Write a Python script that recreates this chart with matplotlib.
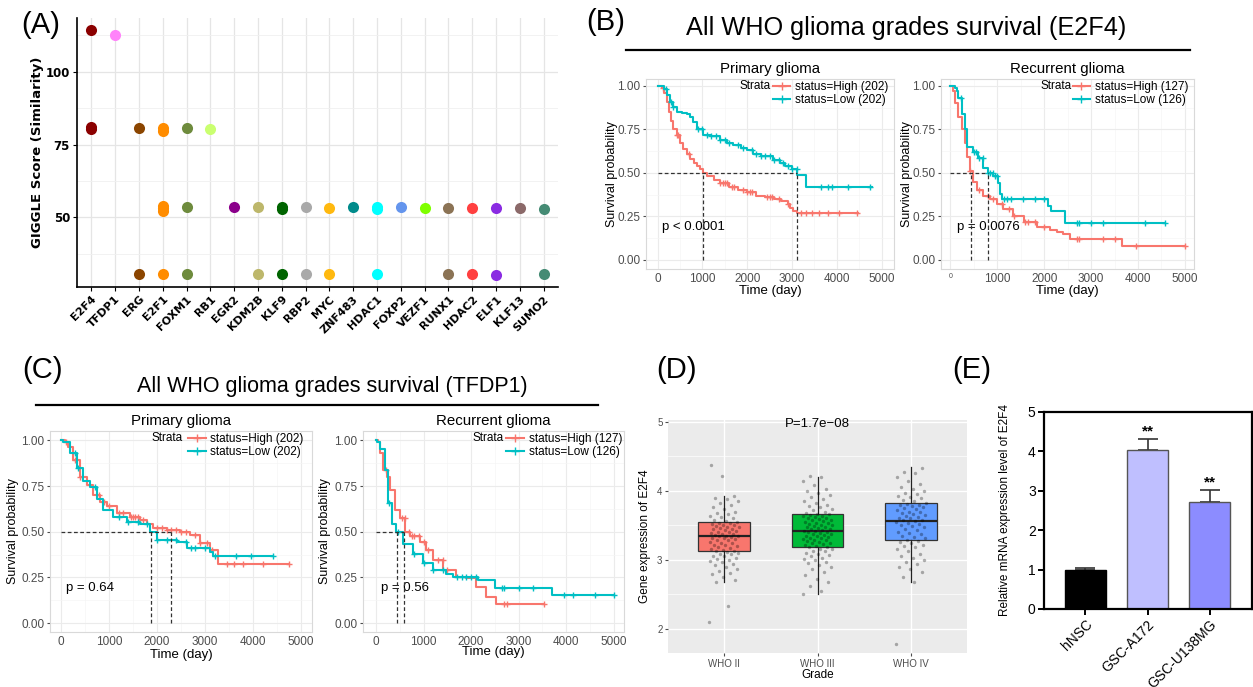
import numpy as np
import matplotlib
matplotlib.use("Agg")
import matplotlib.pyplot as plt
from matplotlib.lines import Line2D
from matplotlib.ticker import MultipleLocator

plt.rcParams["font.family"] = ["Liberation Sans", "DejaVu Sans"]

# ---------------- data ----------------
# (A) GIGGLE scores
genes = ["E2F4", "TFDP1", "ERG", "E2F1", "FOXM1", "RB1", "EGR2", "KDM2B", "KLF9", "RBP2",
         "MYC", "ZNF483", "HDAC1", "FOXP2", "VEZF1", "RUNX1", "HDAC2", "ELF1", "KLF13", "SUMO2"]
gene_colors = ["#8B0000", "#FF83FA", "#8B4500", "#FF8C00", "#6E8B3D", "#CAFF70", "#8B008B",
               "#BDB76B", "#006400", "#A9A9A9", "#FFB90F", "#008B8B", "#00FFFF", "#6495ED",
               "#7FFF00", "#8B7355", "#FF4040", "#8A2BE2", "#8B6969", "#458B74"]
giggle_scores = [
    [114.3, 80.4, 81.1],
    [112.6],
    [80.7, 30.4],
    [79.8, 80.8, 52.3, 53.1, 53.9, 30.4],
    [80.7, 53.4, 30.4],
    [80.4],
    [53.6],
    [53.6, 30.4],
    [52.8, 53.6, 30.4],
    [53.6, 30.4],
    [53.2, 30.4],
    [53.6],
    [52.7, 53.4, 30.4],
    [53.6],
    [53.2],
    [53.2, 30.4],
    [53.2, 30.4],
    [53.2, 30.2],
    [53.0],
    [52.8, 30.6],
]

# (B) E2F4 survival, primary glioma
b1_high_t = [0, 100, 150, 200, 250, 300, 350, 420, 500, 570, 650, 720, 800, 870, 950, 1020,
             1100, 1250, 1400, 1600, 1800, 2000, 2200, 2400, 2600, 2750, 2900, 2960, 3030, 3100, 4480]
b1_high_s = [1.0, 0.99, 0.96, 0.91, 0.85, 0.80, 0.75, 0.72, 0.67, 0.64, 0.61, 0.58, 0.56, 0.54,
             0.52, 0.50, 0.48, 0.46, 0.44, 0.42, 0.40, 0.39, 0.37, 0.36, 0.35, 0.34, 0.32, 0.30,
             0.28, 0.27, 0.27]
b1_high_cens = [120, 420, 450, 700, 1400, 1450, 1500, 1550, 1650, 1700, 1900, 2000, 2050, 2100,
                2450, 2500, 2550, 2700, 2900, 3200, 3300, 3450, 3600, 3800, 4050, 4450]
b1_low_t = [0, 150, 200, 275, 350, 424, 550, 647, 720, 796, 870, 1019, 1200, 1391, 1550, 1689,
            1850, 1987, 2135, 2300, 2433, 2582, 2731, 2850, 2991, 3118, 3300, 4780]
b1_low_s = [1.0, 0.98, 0.95, 0.91, 0.88, 0.85, 0.845, 0.84, 0.82, 0.79, 0.75, 0.72, 0.71, 0.69,
            0.675, 0.66, 0.645, 0.63, 0.61, 0.60, 0.595, 0.575, 0.555, 0.54, 0.52, 0.49, 0.42, 0.42]
b1_low_cens = [180, 300, 350, 900, 1000, 1100, 1200, 1300, 1400, 1500, 1600, 1800, 1900, 2100,
               2200, 2300, 2400, 2500, 2600, 2700, 2800, 2900, 3000, 3100, 3650, 3800, 3900, 4250, 4750]

# (B) E2F4 survival, recurrent glioma
b2_high_t = [0, 60, 100, 170, 240, 310, 360, 420, 490, 560, 700, 845, 990, 1130, 1340, 1560,
             1840, 2120, 2270, 2410, 2550, 3650, 5000]
b2_high_s = [1.0, 0.97, 0.90, 0.82, 0.75, 0.67, 0.59, 0.51, 0.45, 0.40, 0.37, 0.35, 0.32, 0.29,
             0.25, 0.22, 0.19, 0.17, 0.16, 0.15, 0.12, 0.08, 0.08]
b2_high_cens = [420, 600, 800, 900, 1100, 1250, 1350, 1600, 1650, 1800, 2000, 2700, 2750, 3250,
                3500, 3950, 5000]
b2_low_t = [0, 100, 135, 171, 242, 313, 362, 490, 597, 703, 796, 917, 1023, 1059, 1100, 2080,
            2150, 2450, 4580]
b2_low_s = [1.0, 0.99, 0.97, 0.93, 0.84, 0.75, 0.65, 0.62, 0.585, 0.53, 0.50, 0.48, 0.44, 0.38,
            0.35, 0.31, 0.28, 0.21, 0.21]
b2_low_cens = [230, 500, 550, 600, 700, 800, 850, 900, 950, 1000, 1150, 1200, 1300, 1550, 1800,
               2000, 2700, 2750, 3000, 3250, 4150, 4580]

# (C) TFDP1 survival, primary glioma
c1_high_t = [0, 80, 150, 260, 400, 535, 675, 810, 950, 1160, 1440, 1650, 1790, 1925, 2200, 2480,
             2690, 2900, 3100, 3280, 4740]
c1_high_s = [1.0, 0.99, 0.965, 0.89, 0.80, 0.755, 0.70, 0.665, 0.64, 0.60, 0.58, 0.565, 0.54,
             0.52, 0.51, 0.50, 0.48, 0.44, 0.40, 0.325, 0.325]
c1_high_cens = [100, 300, 400, 800, 900, 1000, 1200, 1300, 1450, 1500, 1550, 1600, 1700, 2000,
                2100, 2200, 2300, 2400, 2500, 2600, 2800, 2900, 3050, 3150, 3450, 3600, 3800, 4200, 4740]
c1_low_t = [0, 50, 190, 330, 465, 605, 745, 880, 1090, 1370, 1650, 1855, 1990, 2410, 2620, 3100,
            3170, 4420]
c1_low_s = [1.0, 0.99, 0.93, 0.85, 0.78, 0.745, 0.68, 0.62, 0.58, 0.555, 0.54, 0.50, 0.455,
            0.445, 0.41, 0.39, 0.365, 0.365]
c1_low_cens = [300, 350, 700, 1200, 1400, 1600, 1800, 2000, 2200, 2400, 2600, 2700, 2800, 3000,
               3200, 3650, 3950, 4420]

# (C) TFDP1 survival, recurrent glioma
c2_high_t = [0, 50, 85, 155, 225, 295, 400, 500, 605, 710, 920, 1060, 1200, 1410, 1690, 1900,
             2100, 2310, 2520, 3530]
c2_high_s = [1.0, 0.99, 0.93, 0.84, 0.80, 0.73, 0.62, 0.575, 0.50, 0.475, 0.445, 0.40, 0.345,
             0.29, 0.255, 0.245, 0.20, 0.145, 0.105, 0.105]
c2_high_cens = [210, 550, 600, 700, 750, 800, 900, 1000, 1100, 1300, 1400, 1500, 2700, 2750, 3530]
c2_low_t = [0, 30, 85, 190, 260, 330, 430, 570, 780, 990, 1200, 1480, 1620, 2150, 2500, 3700, 5000]
c2_low_s = [1.0, 0.99, 0.95, 0.84, 0.655, 0.545, 0.50, 0.435, 0.38, 0.33, 0.29, 0.27, 0.255,
            0.235, 0.195, 0.155, 0.155]
c2_low_cens = [280, 460, 800, 1000, 1200, 1400, 1700, 1800, 1900, 2000, 2100, 2650, 2700, 3000,
               3300, 3950, 4150, 4600, 5000]

# (D) E2F4 expression by grade
grades = ["WHO II", "WHO III", "WHO IV"]
box_q1 = [3.12, 3.19, 3.28]
box_med = [3.35, 3.42, 3.56]
box_q3 = [3.55, 3.67, 3.82]
whisk_lo = [2.68, 2.50, 2.68]
whisk_hi = [3.93, 4.20, 4.35]
grade_colors = ["#F8766D", "#00BA38", "#619CFF"]
who2_expr = [2.10, 2.33, 2.68, 2.70, 2.75, 2.79, 2.81, 2.84, 2.87, 2.90, 2.92, 2.94, 2.96, 2.98,
             3.00, 3.01, 3.03, 3.05, 3.06, 3.08, 3.09, 3.10, 3.11, 3.12, 3.13, 3.14, 3.16, 3.17,
             3.18, 3.20, 3.21, 3.22, 3.24, 3.25, 3.26, 3.28, 3.29, 3.30, 3.31, 3.32, 3.33, 3.34,
             3.35, 3.35, 3.36, 3.37, 3.38, 3.39, 3.40, 3.41, 3.42, 3.43, 3.44, 3.45, 3.46, 3.47,
             3.48, 3.49, 3.50, 3.51, 3.52, 3.53, 3.54, 3.55, 3.56, 3.58, 3.60, 3.62, 3.64, 3.66,
             3.68, 3.70, 3.73, 3.76, 3.79, 3.82, 3.85, 3.88, 3.90, 3.92, 4.22, 4.38]
who3_expr = [2.50, 2.55, 2.62, 2.68, 2.72, 2.78, 2.82, 2.86, 2.89, 2.92, 2.95, 2.97, 2.99, 3.01,
             3.03, 3.05, 3.07, 3.09, 3.10, 3.12, 3.13, 3.15, 3.16, 3.18, 3.19, 3.20, 3.21, 3.23,
             3.24, 3.25, 3.26, 3.27, 3.28, 3.29, 3.30, 3.31, 3.32, 3.33, 3.34, 3.35, 3.36, 3.37,
             3.38, 3.39, 3.40, 3.41, 3.42, 3.42, 3.43, 3.44, 3.45, 3.46, 3.47, 3.48, 3.49, 3.50,
             3.51, 3.52, 3.53, 3.54, 3.55, 3.56, 3.57, 3.58, 3.59, 3.60, 3.61, 3.62, 3.63, 3.64,
             3.65, 3.66, 3.67, 3.68, 3.70, 3.72, 3.74, 3.76, 3.78, 3.80, 3.82, 3.85, 3.88, 3.91,
             3.94, 3.97, 4.00, 4.03, 4.08, 4.14, 4.20, 4.21]
who4_expr = [1.78, 2.68, 2.75, 2.82, 2.86, 2.90, 2.94, 2.97, 3.00, 3.03, 3.06, 3.09, 3.12, 3.15,
             3.18, 3.20, 3.22, 3.24, 3.26, 3.27, 3.29, 3.31, 3.33, 3.35, 3.37, 3.39, 3.41, 3.43,
             3.45, 3.47, 3.49, 3.50, 3.52, 3.53, 3.55, 3.56, 3.57, 3.58, 3.60, 3.61, 3.62, 3.64,
             3.65, 3.66, 3.68, 3.69, 3.70, 3.72, 3.73, 3.75, 3.76, 3.78, 3.79, 3.80, 3.81, 3.83,
             3.85, 3.87, 3.89, 3.91, 3.93, 3.95, 3.97, 4.00, 4.03, 4.06, 4.10, 4.15, 4.20, 4.26,
             4.28, 4.33]

# (E) qPCR
cells = ["hNSC", "GSC-A172", "GSC-U138MG"]
rel_expr = [1.0, 4.04, 2.72]
rel_err = [0.05, 0.28, 0.30]
cell_colors = ["#000000", "#BFBFFF", "#8C8CFF"]

RED, TEAL = "#F8766D", "#00BFC4"

# ---------------- layout helpers ----------------
W, H = 1253, 687
fig = plt.figure(figsize=(W / 100, H / 100), dpi=100)


def add_ax(left, top, right, bottom):
    return fig.add_axes([left / W, 1 - bottom / H, (right - left) / W, (bottom - top) / H])


def fig_text(x, y, s, **kw):
    kw.setdefault("ha", "center")
    kw.setdefault("va", "center")
    fig.text(x / W, 1 - y / H, s, **kw)


def fig_hline(x0, x1, y):
    fig.add_artist(Line2D([x0 / W, x1 / W], [1 - y / H, 1 - y / H], color="black", lw=1.6))


# ---------------- (A) ----------------
ax = add_ax(77, 18, 558, 287)
for i, (vals, col) in enumerate(zip(giggle_scores, gene_colors)):
    ax.scatter([i] * len(vals), vals, s=64, color=col, zorder=3, linewidths=0)
ax.set_xlim(-0.6, 19.6)
ax.set_ylim(26, 118.5)
ax.set_xticks(range(len(genes)))
ax.set_xticklabels(genes, rotation=45, ha="right", rotation_mode="anchor",
                   fontsize=8, fontweight="bold", family="DejaVu Sans")
ax.set_yticks([50, 75, 100])
ax.set_yticklabels(["50", "75", "100"], fontsize=8.5, fontweight="bold", family="DejaVu Sans")
ax.yaxis.set_minor_locator(MultipleLocator(12.5))
ax.grid(True, which="major", color="#E5E5E5", lw=0.9)
ax.grid(True, which="minor", axis="y", color="#F0F0F0", lw=0.6)
ax.set_axisbelow(True)
for s in ["top", "right"]:
    ax.spines[s].set_visible(False)
for s in ["left", "bottom"]:
    ax.spines[s].set_linewidth(1.2)
ax.tick_params(which="minor", length=0)
ax.tick_params(length=3, pad=2)
ax.set_ylabel("GIGGLE Score (Similarity)", fontsize=9.5, fontweight="bold",
              family="DejaVu Sans", va="center")
ax.yaxis.set_label_coords(-0.083, 0.5)
fig_text(41, 25, "(A)", fontsize=21)


# ---------------- survival helper ----------------
def km_panel(box, xlim, ylim, curves, medians, pval, title, labels, strata_x, leg_x,
             ylab_x, xlab_y, small_zero=False):
    ax = add_ax(*box)
    for t, s, cens, col in curves:
        ax.step(t, s, where="post", color=col, lw=1.5, zorder=3)
        idx = np.searchsorted(t, cens, side="right") - 1
        ax.plot(cens, np.array(s)[idx], "+", color=col, ms=5, mew=1.0, zorder=3)
    ax.plot([0, max(medians)], [0.5, 0.5], color="#333333", lw=0.9, ls=(0, (3, 2)), zorder=4)
    for m in medians:
        ax.plot([m, m], [0, 0.5], color="#333333", lw=0.9, ls=(0, (3, 2)), zorder=4)
    ax.text(pval[0], 0.19, pval[1], fontsize=9.5, va="center", ha="left")
    ax.set_xlim(*xlim)
    ax.set_ylim(*ylim)
    ax.set_xticks(range(0, 5001, 1000))
    ax.set_yticks([0, 0.25, 0.5, 0.75, 1.0])
    ax.set_yticklabels(["0.00", "0.25", "0.50", "0.75", "1.00"])
    ax.xaxis.set_minor_locator(MultipleLocator(500))
    ax.yaxis.set_minor_locator(MultipleLocator(0.125))
    ax.grid(True, which="major", color="#EBEBEB", lw=0.8)
    ax.grid(True, which="minor", color="#F5F5F5", lw=0.5)
    ax.set_axisbelow(True)
    for sp in ax.spines.values():
        sp.set_color("#D9D9D9")
        sp.set_linewidth(0.8)
    ax.tick_params(which="minor", length=0)
    ax.tick_params(length=2.5, color="#4D4D4D", labelcolor="#4D4D4D", labelsize=8.5, pad=1.5)
    ax.tick_params(axis="x", length=0, pad=3)
    if small_zero:
        ax.get_xticklabels()[0].set_fontsize(5)
    ax.set_ylabel("Survival probability", fontsize=9, va="center")
    ax.yaxis.set_label_coords(ylab_x, 0.5)
    ax.set_xlabel("Time (day)", fontsize=9.5, va="center")
    ax.xaxis.set_label_coords(0.5, xlab_y)
    ax.set_title(title, fontsize=10.8, pad=4)
    handles = [Line2D([], [], color=RED, marker="+", lw=1.5, ms=6),
               Line2D([], [], color=TEAL, marker="+", lw=1.5, ms=6)]
    ax.legend(handles, labels, loc="upper right", bbox_to_anchor=(leg_x, 1.0), frameon=False,
              fontsize=8.5, handlelength=1.5, handletextpad=0.4, labelspacing=0.1,
              borderaxespad=0, borderpad=0.15)
    ax.text(strata_x, 0.963, "Strata", transform=ax.transAxes, fontsize=8.5, va="center")
    return ax


# ---------------- (B) ----------------
fig_text(606, 22, "(B)", fontsize=21)
fig_text(906, 28, "All WHO glioma grades survival (E2F4)", fontsize=18.2)
fig_hline(626, 1190, 50)
km_panel((646, 79, 894, 269), (-261, 5275), (-0.052, 1.04),
         [(b1_high_t, b1_high_s, b1_high_cens, RED), (b1_low_t, b1_low_s, b1_low_cens, TEAL)],
         [1020, 3100], (90, "p < 0.0001"), "Primary glioma",
         ["status=High (202)", "status=Low (202)"], 0.375, 0.985, -0.138, -0.114)
km_panel((941, 79, 1194, 269), (-200, 5194), (-0.052, 1.04),
         [(b2_high_t, b2_high_s, b2_high_cens, RED), (b2_low_t, b2_low_s, b2_low_cens, TEAL)],
         [440, 796], (135, "p = 0.0076"), "Recurrent glioma",
         ["status=High (127)", "status=Low (126)"], 0.393, 0.985, -0.136, -0.114, small_zero=True)

# ---------------- (C) ----------------
fig_text(42, 370, "(C)", fontsize=21)
fig_text(332, 386, "All WHO glioma grades survival (TFDP1)", fontsize=15.5)
fig_hline(36, 598, 405)
km_panel((50, 431, 312, 632), (-229, 5229), (-0.048, 1.051),
         [(c1_high_t, c1_high_s, c1_high_cens, RED), (c1_low_t, c1_low_s, c1_low_cens, TEAL)],
         [1875, 2290], (100, "p = 0.64"), "Primary glioma",
         ["status=High (202)", "status=Low (202)"], 0.388, 0.975, -0.14, -0.114)
km_panel((363, 431, 624, 632), (-274, 5221), (-0.048, 1.051),
         [(c2_high_t, c2_high_s, c2_high_cens, RED), (c2_low_t, c2_low_s, c2_low_cens, TEAL)],
         [432, 592], (105, "p = 0.56"), "Recurrent glioma",
         ["status=High (127)", "status=Low (126)"], 0.42, 1.0, -0.146, -0.098)

# ---------------- (D) ----------------
fig_text(676, 370, "(D)", fontsize=21)
ax = add_ax(668, 420, 967, 653)
ax.set_facecolor("#EBEBEB")
stats = [dict(q1=a, med=b, q3=c, whislo=d, whishi=e, fliers=[], label=g)
         for a, b, c, d, e, g in zip(box_q1, box_med, box_q3, whisk_lo, whisk_hi, grades)]
bp = ax.bxp(stats, positions=[1, 2, 3], widths=0.55, patch_artist=True, showcaps=False,
            medianprops=dict(color="#222222", lw=1.6),
            whiskerprops=dict(color="#222222", lw=0.9),
            boxprops=dict(edgecolor="#333333", lw=0.9))
for patch, col in zip(bp["boxes"], grade_colors):
    patch.set_facecolor(col)
for k, vals in enumerate([who2_expr, who3_expr, who4_expr]):
    n = len(vals)
    offs = (np.modf(np.arange(n) * 0.6180339887)[0] - 0.5) * 0.32
    ax.scatter(k + 1 + offs, vals, s=6, color="black", alpha=0.3, linewidths=0, zorder=4)
ax.set_xlim(0.4, 3.6)
ax.set_ylim(1.645, 5.03)
ax.set_yticks([2, 3, 4, 5])
ax.yaxis.set_minor_locator(MultipleLocator(0.5))
ax.grid(True, which="major", color="white", lw=1.0)
ax.grid(True, which="minor", axis="y", color="white", lw=0.5)
ax.set_axisbelow(True)
for sp in ax.spines.values():
    sp.set_visible(False)
ax.tick_params(which="minor", length=0)
ax.tick_params(length=2, color="#4D4D4D", labelcolor="#4D4D4D", labelsize=7, pad=2)
ax.text(2, 4.97, "P=1.7e\u221208", ha="center", va="center", fontsize=9.5)
ax.set_ylabel("Gene expression of E2F4", fontsize=8.5, va="center")
ax.yaxis.set_label_coords(-0.077, 0.5)
ax.set_xlabel("Grade", fontsize=8.5, va="center")
ax.xaxis.set_label_coords(0.5, -0.094)

# ---------------- (E) ----------------
fig_text(972, 370, "(E)", fontsize=21)
ax = add_ax(1044, 412, 1252, 609)
x = np.arange(len(cells))
ax.errorbar(x, rel_expr, yerr=[np.zeros(len(cells)), rel_err], fmt="none", ecolor="#333333",
            elinewidth=1.2, capsize=7, capthick=1.2, zorder=1)
ax.bar(x, rel_expr, width=0.66, color=cell_colors, edgecolor=["#000000", "#555555", "#555555"],
       linewidth=1.0, zorder=2)
for xi, v, e in zip(x, rel_expr, rel_err):
    if xi > 0:
        ax.text(xi, v + e + 0.02, "**", ha="center", va="bottom", fontsize=11, fontweight="bold")
ax.set_xlim(-0.664, 2.68)
ax.set_ylim(0, 5)
ax.set_xticks(x)
ax.set_xticklabels(cells, rotation=45, ha="right", rotation_mode="anchor", fontsize=8.5)
ax.set_yticks(range(6))
for sp in ax.spines.values():
    sp.set_linewidth(1.6)
ax.tick_params(direction="out", length=4, width=1.4, labelsize=10, pad=2)
ax.set_ylabel("Relative mRNA expression level of E2F4", fontsize=8.5, va="center")
ax.yaxis.set_label_coords(-0.1875, 0.5)

fig.savefig("out.png", dpi=100)
